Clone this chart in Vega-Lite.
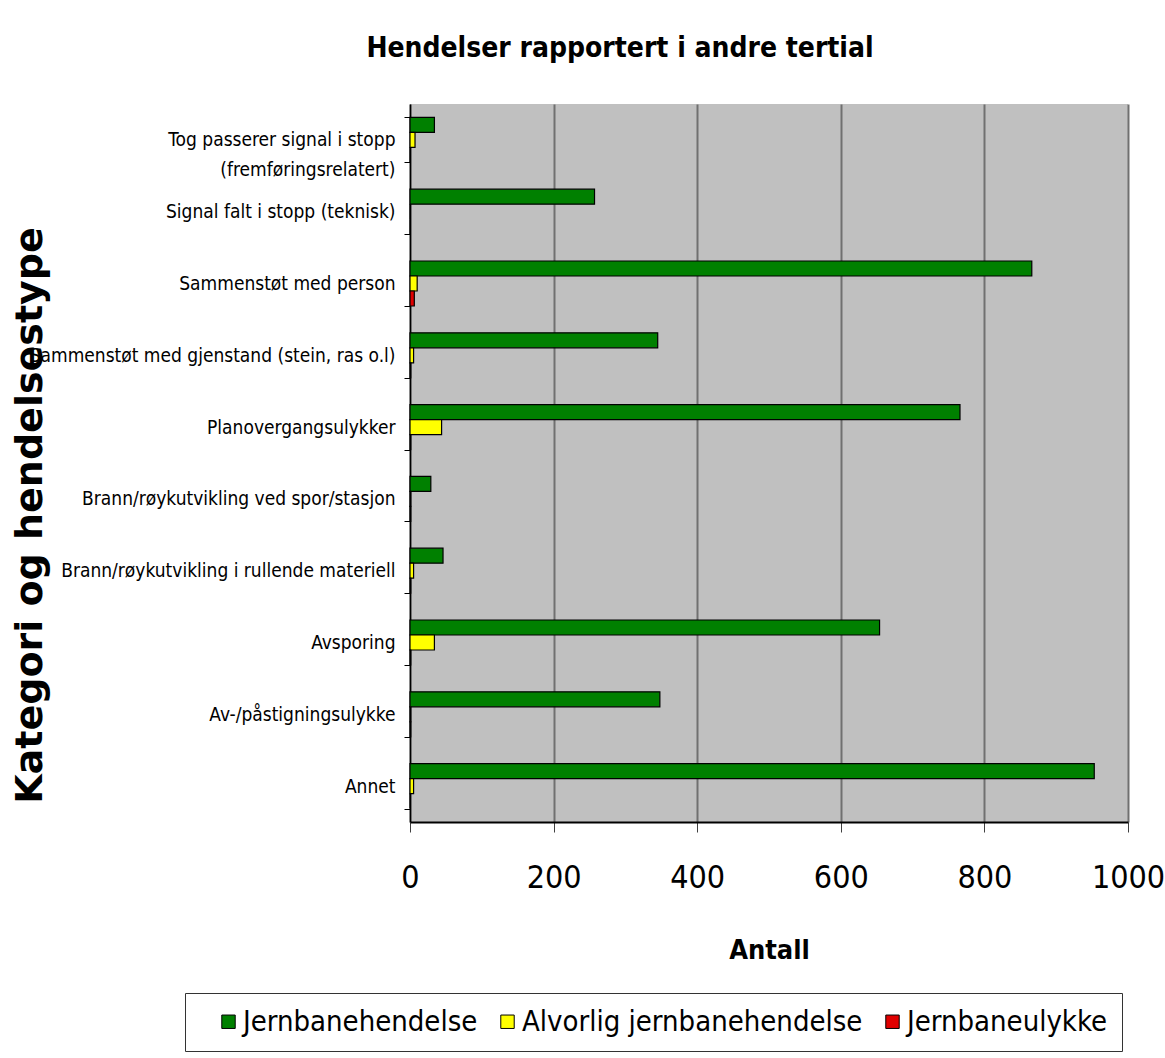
{
  "$schema": "https://vega.github.io/schema/vega-lite/v6.json",
  "width": 718,
  "height": 718,
  "autosize": {"type": "none"},
  "padding": {"left": 410, "top": 104, "right": 37, "bottom": 236},
  "background": "white",
  "title": {
    "text": "Hendelser rapportert i andre tertial",
    "font": "DejaVu Sans Condensed, Liberation Sans, sans-serif",
    "fontSize": 28,
    "fontWeight": "bold",
    "color": "black",
    "anchor": "middle",
    "dx": -149,
    "offset": 10,
    "baseline": "alphabetic"
  },
  "data": {
    "values": [
      {"kategori": "Tog passerer signal i stopp|(fremføringsrelatert)\u00a0\u00a0\u00a0\u00a0\u00a0", "type": "Jernbanehendelse", "antall": 34},
      {"kategori": "Tog passerer signal i stopp|(fremføringsrelatert)\u00a0\u00a0\u00a0\u00a0\u00a0", "type": "Alvorlig jernbanehendelse", "antall": 7},
      {"kategori": "Tog passerer signal i stopp|(fremføringsrelatert)\u00a0\u00a0\u00a0\u00a0\u00a0", "type": "Jernbaneulykke", "antall": 0},
      {"kategori": "Signal falt i stopp (teknisk)", "type": "Jernbanehendelse", "antall": 257},
      {"kategori": "Signal falt i stopp (teknisk)", "type": "Alvorlig jernbanehendelse", "antall": 0},
      {"kategori": "Signal falt i stopp (teknisk)", "type": "Jernbaneulykke", "antall": 0},
      {"kategori": "Sammenstøt med person", "type": "Jernbanehendelse", "antall": 866},
      {"kategori": "Sammenstøt med person", "type": "Alvorlig jernbanehendelse", "antall": 10},
      {"kategori": "Sammenstøt med person", "type": "Jernbaneulykke", "antall": 6},
      {"kategori": "Sammenstøt med gjenstand (stein, ras o.l)", "type": "Jernbanehendelse", "antall": 345},
      {"kategori": "Sammenstøt med gjenstand (stein, ras o.l)", "type": "Alvorlig jernbanehendelse", "antall": 5},
      {"kategori": "Sammenstøt med gjenstand (stein, ras o.l)", "type": "Jernbaneulykke", "antall": 1},
      {"kategori": "Planovergangsulykker", "type": "Jernbanehendelse", "antall": 766},
      {"kategori": "Planovergangsulykker", "type": "Alvorlig jernbanehendelse", "antall": 44},
      {"kategori": "Planovergangsulykker", "type": "Jernbaneulykke", "antall": 1},
      {"kategori": "Brann/røykutvikling ved spor/stasjon", "type": "Jernbanehendelse", "antall": 29},
      {"kategori": "Brann/røykutvikling ved spor/stasjon", "type": "Alvorlig jernbanehendelse", "antall": 1},
      {"kategori": "Brann/røykutvikling ved spor/stasjon", "type": "Jernbaneulykke", "antall": 1},
      {"kategori": "Brann/røykutvikling i rullende materiell", "type": "Jernbanehendelse", "antall": 46},
      {"kategori": "Brann/røykutvikling i rullende materiell", "type": "Alvorlig jernbanehendelse", "antall": 5},
      {"kategori": "Brann/røykutvikling i rullende materiell", "type": "Jernbaneulykke", "antall": 1},
      {"kategori": "Avsporing", "type": "Jernbanehendelse", "antall": 654},
      {"kategori": "Avsporing", "type": "Alvorlig jernbanehendelse", "antall": 34},
      {"kategori": "Avsporing", "type": "Jernbaneulykke", "antall": 1},
      {"kategori": "Av-/påstigningsulykke", "type": "Jernbanehendelse", "antall": 348},
      {"kategori": "Av-/påstigningsulykke", "type": "Alvorlig jernbanehendelse", "antall": 1},
      {"kategori": "Av-/påstigningsulykke", "type": "Jernbaneulykke", "antall": 1},
      {"kategori": "Annet", "type": "Jernbanehendelse", "antall": 953},
      {"kategori": "Annet", "type": "Alvorlig jernbanehendelse", "antall": 5},
      {"kategori": "Annet", "type": "Jernbaneulykke", "antall": 0}
    ]
  },
  "mark": {"type": "bar", "stroke": "black", "strokeWidth": 1.2},
  "encoding": {
    "y": {
      "field": "kategori",
      "type": "nominal",
      "sort": null,
      "scale": {"paddingInner": 0.373, "paddingOuter": 0.1865},
      "axis": {
        "title": "Kategori og hendelsestype",
        "titleFont": "DejaVu Sans",
        "titleFontWeight": "bold",
        "titleFontSize": 38,
        "titleColor": "black",
        "titleAngle": -90,
        "titleX": -380,
        "titleY": 411,
        "titleAlign": "center",
        "titleBaseline": "middle",
        "labelFont": "DejaVu Sans Condensed, Liberation Sans, sans-serif",
        "labelFontSize": 19,
        "labelColor": "black",
        "labelLimit": 500,
        "labelExpr": "split(datum.label, '|')",
        "labelLineHeight": 30,
        "labelPadding": 9,
        "tickBand": "extent",
        "tickSize": 6,
        "tickColor": "black",
        "domainColor": "black",
        "domainWidth": 1.5,
        "grid": false
      }
    },
    "yOffset": {
      "field": "type",
      "type": "nominal",
      "sort": ["Jernbanehendelse", "Alvorlig jernbanehendelse", "Jernbaneulykke"]
    },
    "x": {
      "field": "antall",
      "type": "quantitative",
      "scale": {"domain": [0, 1000]},
      "axis": {
        "title": "Antall",
        "titleFont": "DejaVu Sans Condensed, Liberation Sans, sans-serif",
        "titleFontSize": 27,
        "titleFontWeight": "bold",
        "titleColor": "black",
        "titleBaseline": "alphabetic",
        "titleY": 136,
        "values": [0, 200, 400, 600, 800, 1000],
        "format": "d",
        "labelFont": "DejaVu Sans Condensed, Liberation Sans, sans-serif",
        "labelFontSize": 32,
        "labelColor": "black",
        "labelPadding": 30,
        "labelFlush": false,
        "tickSize": 10,
        "tickColor": "#404040",
        "domainColor": "black",
        "domainWidth": 2,
        "grid": true,
        "gridColor": "#707070",
        "gridWidth": 2
      }
    },
    "color": {
      "field": "type",
      "type": "nominal",
      "scale": {
        "domain": ["Jernbanehendelse", "Alvorlig jernbanehendelse", "Jernbaneulykke"],
        "range": ["#008000", "#FFFF00", "#E00000"]
      },
      "legend": {
        "orient": "none",
        "legendX": -225,
        "legendY": 889,
        "direction": "horizontal",
        "title": null,
        "strokeColor": "#333333",
        "padding": 14,
        "labelFont": "DejaVu Sans Condensed, Liberation Sans, sans-serif",
        "labelFontSize": 29,
        "labelColor": "black",
        "labelLimit": 500,
        "symbolType": "square",
        "symbolSize": 180,
        "symbolStrokeColor": "black",
        "symbolStrokeWidth": 1,
        "symbolOffset": 15,
        "columnPadding": -5,
        "labelOffset": 0
      }
    }
  },
  "config": {"view": {"fill": "#C0C0C0", "stroke": null}}
}
